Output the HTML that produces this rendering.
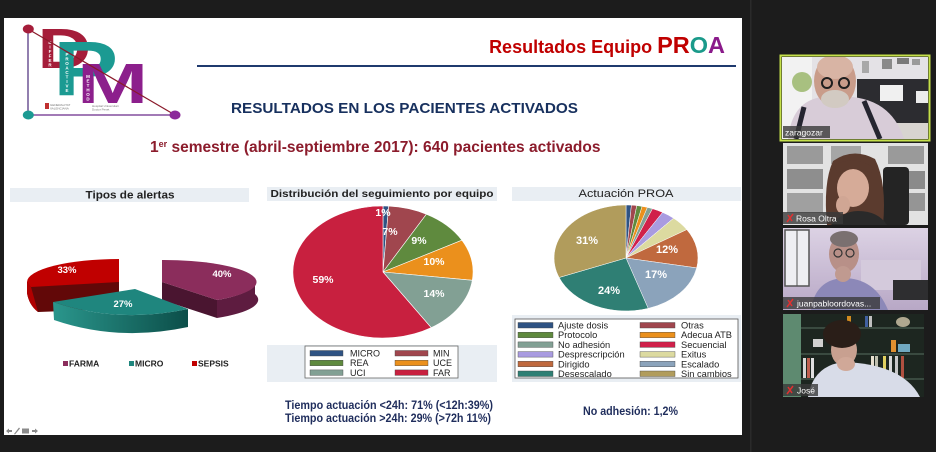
<!DOCTYPE html>
<html><head><meta charset="utf-8"><style>
html,body{margin:0;padding:0;background:#1c1c1c;}
svg{display:block;}
text{font-family:"Liberation Sans",Arial,sans-serif;}
</style></head><body>
<svg width="936" height="452" viewBox="0 0 936 452" xmlns="http://www.w3.org/2000/svg">
<defs>
<linearGradient id="tealside" x1="0" x2="1" y1="0" y2="0"><stop offset="0" stop-color="#2a968c"/><stop offset="1" stop-color="#0c4e49"/></linearGradient>
<linearGradient id="lav" x1="0" x2="0" y1="0" y2="1"><stop offset="0" stop-color="#dcd2e4"/><stop offset="1" stop-color="#b8a8c6"/></linearGradient>
</defs>
<rect width="936" height="452" fill="#1c1c1c"/>
<rect x="750" y="0" width="1.5" height="452" fill="#2a2a2a"/>
<!-- slide -->
<rect x="4" y="18" width="738" height="417" fill="#ffffff"/>

<!-- logo -->
<text transform="translate(37.6,68) scale(1.3,1)" x="0" y="0" font-size="57" font-weight="bold" fill="#a51d3a">D</text>
<text transform="translate(53,95) scale(1.27,1)" x="0" y="0" font-size="77" font-weight="bold" fill="#1b9a92">P</text>
<text transform="translate(77,103) scale(1.5,1)" x="0" y="0" font-size="57" font-weight="bold" fill="#8c1f8c">M</text>
<text font-size="4.5" font-weight="bold" fill="#ffffff" text-anchor="middle"><tspan x="50" y="44">D</tspan><tspan x="50" dy="4.5">I</tspan><tspan x="50" dy="4.5">F</tspan><tspan x="50" dy="4.5">F</tspan><tspan x="50" dy="4.5">E</tspan><tspan x="50" dy="4.5">R</tspan><tspan x="50" dy="4.5">E</tspan><tspan x="50" dy="4.5">N</tspan><tspan x="50" dy="4.5">T</tspan></text>
<text font-size="4.5" font-weight="bold" fill="#ffffff" text-anchor="middle"><tspan x="67" y="56">P</tspan><tspan x="67" dy="4.5">R</tspan><tspan x="67" dy="4.5">O</tspan><tspan x="67" dy="4.5">A</tspan><tspan x="67" dy="4.5">C</tspan><tspan x="67" dy="4.5">T</tspan><tspan x="67" dy="4.5">I</tspan><tspan x="67" dy="4.5">V</tspan><tspan x="67" dy="4.5">E</tspan></text>
<text font-size="4.5" font-weight="bold" fill="#ffffff" text-anchor="middle"><tspan x="88" y="78">M</tspan><tspan x="88" dy="4.5">E</tspan><tspan x="88" dy="4.5">T</tspan><tspan x="88" dy="4.5">H</tspan><tspan x="88" dy="4.5">O</tspan><tspan x="88" dy="4.5">D</tspan></text>
<line x1="28" y1="29" x2="28" y2="115" stroke="#4a2a7a" stroke-width="1.2"/>
<line x1="28" y1="115" x2="175" y2="115" stroke="#6a2a8a" stroke-width="1.2"/>
<line x1="28" y1="29" x2="175" y2="115" stroke="#8a1a2a" stroke-width="1.2"/>
<ellipse cx="28.3" cy="29" rx="5.5" ry="4.5" fill="#a51d3a"/>
<ellipse cx="28.3" cy="115" rx="5.5" ry="4.5" fill="#1b9a92"/>
<ellipse cx="175" cy="115" rx="5.5" ry="4.5" fill="#8c2a9a"/>
<rect x="45" y="103" width="4" height="6" fill="#c03030"/>
<text x="50" y="106" font-size="3" fill="#777">GENERALITAT</text>
<text x="50" y="109.5" font-size="3" fill="#777">VALENCIANA</text>
<text x="92" y="107" font-size="3" fill="#777">Hospital Universitari</text>
<text x="92" y="110.5" font-size="3" fill="#777">Doctor Peset</text>

<!-- header -->
<text x="725" y="53" text-anchor="end" font-weight="bold" fill="#c00000" font-size="18">Resultados Equipo <tspan font-size="23.5">PR</tspan><tspan font-size="23.5" fill="#1a9a8a">O</tspan><tspan font-size="23.5" fill="#8a1a8a">A</tspan></text>
<line x1="197" y1="66" x2="736" y2="66" stroke="#1f3a6e" stroke-width="2"/>
<text x="231" y="113" font-size="15" font-weight="bold" fill="#17305e" textLength="347" lengthAdjust="spacingAndGlyphs">RESULTADOS EN LOS PACIENTES ACTIVADOS</text>
<text x="150" y="152" font-size="15.5" font-weight="bold" fill="#8c1c2c">1<tspan font-size="9" dy="-5">er</tspan><tspan dy="5"> semestre (abril-septiembre 2017):  640 pacientes activados</tspan></text>

<!-- chart 1 -->
<rect x="10" y="188" width="239" height="14" fill="#e9eef3"/>
<text x="130" y="198.5" text-anchor="middle" font-size="11" font-weight="bold" fill="#222" textLength="89" lengthAdjust="spacingAndGlyphs">Tipos de alertas</text>
<!-- red -->
<path d="M27,282 L119,282 L119,309 L38,312 Q29,305 27,293 Z" fill="#620808"/>
<path d="M27,282 L31,287 L38,312 Q29,305 27,293 Z" fill="#b00000"/>
<path d="M119,282 L119,259 A92,23 0 0 0 27,282 L31,287 Z" fill="#c00000"/>
<!-- purple -->
<path d="M162,282 L217,300 L217,318 L162,300 Z" fill="#4a1530"/>
<path d="M217,300 A93,22 0 0 0 255,282 L255,294 A93,22 0 0 1 217,318 Z" fill="#5e1c40"/>
<path d="M162,282 L162,260 A93,22 0 0 1 217,300 Z" fill="#8b2d5c"/>
<!-- teal -->
<path d="M53,302 Q118,324 188,309 L188,327 Q118,342 54,320 Z" fill="url(#tealside)"/>
<path d="M135,289 L53,302 Q118,324 188,309 Z" fill="#1f867e"/>
<text x="67" y="273" text-anchor="middle" font-size="9.5" font-weight="bold" fill="#fff">33%</text>
<text x="222" y="277" text-anchor="middle" font-size="9.5" font-weight="bold" fill="#fff">40%</text>
<text x="123" y="307" text-anchor="middle" font-size="9.5" font-weight="bold" fill="#fff">27%</text>
<rect x="63" y="361" width="5" height="5" fill="#8b2d5c"/>
<text x="69" y="366.5" font-size="8.5" font-weight="bold" fill="#222">FARMA</text>
<rect x="129" y="361" width="5" height="5" fill="#1f867e"/>
<text x="135" y="366.5" font-size="8.5" font-weight="bold" fill="#222">MICRO</text>
<rect x="192" y="361" width="5" height="5" fill="#c00000"/>
<text x="198" y="366.5" font-size="8.5" font-weight="bold" fill="#222">SEPSIS</text>

<!-- chart 2 -->
<rect x="267" y="187" width="230" height="14" fill="#e9eef3"/>
<text x="382" y="197" text-anchor="middle" font-size="10.5" font-weight="bold" fill="#222" textLength="223" lengthAdjust="spacingAndGlyphs">Distribución del seguimiento por equipo</text>
<g stroke="#ffffff" stroke-width="0.6">
<path d="M383,272 L383,206 A90,66 0 0 1 388.7,206.1 Z" fill="#2f5383"/>
<path d="M383,272 L388.7,206.1 A90,66 0 0 1 426.4,214.2 Z" fill="#a0464e"/>
<path d="M383,272 L426.4,214.2 A90,66 0 0 1 461.9,240.2 Z" fill="#5f8a3e"/>
<path d="M383,272 L461.9,240.2 A90,66 0 0 1 472.3,280.3 Z" fill="#eb901c"/>
<path d="M383,272 L472.3,280.3 A90,66 0 0 1 431.2,327.7 Z" fill="#82a094"/>
<path d="M383,272 L431.2,327.7 A90,66 0 1 1 383,206 Z" fill="#c8203f"/>
</g>
<g font-size="10.5" font-weight="bold" fill="#fff" text-anchor="middle">
<text x="383" y="216">1%</text>
<text x="390" y="235">7%</text>
<text x="419" y="244">9%</text>
<text x="434" y="265">10%</text>
<text x="434" y="297">14%</text>
<text x="323" y="283">59%</text>
</g>
<rect x="267" y="345" width="230" height="37" fill="#e9eef3"/>
<rect x="305" y="346" width="153" height="32" fill="#fff" stroke="#666" stroke-width="0.8"/>
<g stroke="#444" stroke-width="0.4">
<rect x="310" y="350.5" width="33" height="5.5" fill="#2f5383"/>
<rect x="395" y="350.5" width="33" height="5.5" fill="#a0464e"/>
<rect x="310" y="360.2" width="33" height="5.5" fill="#5f8a3e"/>
<rect x="395" y="360.2" width="33" height="5.5" fill="#eb901c"/>
<rect x="310" y="369.9" width="33" height="5.5" fill="#82a094"/>
<rect x="395" y="369.9" width="33" height="5.5" fill="#c8203f"/>
</g>
<g font-size="9" fill="#222">
<text x="350" y="356.5">MICRO</text>
<text x="433" y="356.5">MIN</text>
<text x="350" y="366.2">REA</text>
<text x="433" y="366.2">UCE</text>
<text x="350" y="375.9">UCI</text>
<text x="433" y="375.9">FAR</text>
</g>
<text x="285" y="409" font-size="11.5" font-weight="bold" fill="#1f2d5c" textLength="208" lengthAdjust="spacingAndGlyphs">Tiempo actuación &lt;24h: 71% (&lt;12h:39%)</text>
<text x="285" y="422" font-size="11.5" font-weight="bold" fill="#1f2d5c" textLength="206" lengthAdjust="spacingAndGlyphs">Tiempo actuación &gt;24h: 29% (&gt;72h 11%)</text>

<!-- chart 3 -->
<rect x="512" y="187" width="229" height="14" fill="#e9eef3"/>
<text x="626" y="197" text-anchor="middle" font-size="11" fill="#222" textLength="95" lengthAdjust="spacingAndGlyphs">Actuación PROA</text>
<g stroke="#ffffff" stroke-width="0.5">
<path d="M626,258 L626,205 A72,53 0 0 1 631.4,205.1 Z" fill="#2f5383"/>
<path d="M626,258 L631.4,205.1 A72,53 0 0 1 636.8,205.6 Z" fill="#a0464e"/>
<path d="M626,258 L636.8,205.6 A72,53 0 0 1 642.1,206.4 Z" fill="#5f8a3e"/>
<path d="M626,258 L642.1,206.4 A72,53 0 0 1 647.4,207.4 Z" fill="#eb901c"/>
<path d="M626,258 L647.4,207.4 A72,53 0 0 1 652.5,208.7 Z" fill="#82a094"/>
<path d="M626,258 L652.5,208.7 A72,53 0 0 1 662.6,212.4 Z" fill="#d0204a"/>
<path d="M626,258 L662.6,212.4 A72,53 0 0 1 673.6,218.2 Z" fill="#a99be0"/>
<path d="M626,258 L673.6,218.2 A72,53 0 0 1 686.8,229.6 Z" fill="#dcdaa0"/>
<path d="M626,258 L686.8,229.6 A72,53 0 0 1 696.7,267.9 Z" fill="#c0693e"/>
<path d="M626,258 L696.7,267.9 A72,53 0 0 1 648.2,308.4 Z" fill="#8ba3bb"/>
<path d="M626,258 L648.2,308.4 A72,53 0 0 1 559.1,277.5 Z" fill="#2f7f74"/>
<path d="M626,258 L559.1,277.5 A72,53 0 0 1 626,205 Z" fill="#b19c5c"/>
</g>
<g font-size="11" font-weight="bold" fill="#fff" text-anchor="middle">
<text x="587" y="244">31%</text>
<text x="667" y="253">12%</text>
<text x="656" y="278">17%</text>
<text x="609" y="294">24%</text>
</g>
<rect x="512" y="315" width="229" height="67" fill="#e9eef3"/>
<rect x="515" y="319" width="223" height="59" fill="#fff" stroke="#555" stroke-width="0.8"/>
<g stroke="#444" stroke-width="0.4">
<rect x="518" y="322.5" width="35" height="5.5" fill="#2f5383"/>
<rect x="640" y="322.5" width="35" height="5.5" fill="#a0464e"/>
<rect x="518" y="332.2" width="35" height="5.5" fill="#5f8a3e"/>
<rect x="640" y="332.2" width="35" height="5.5" fill="#eb901c"/>
<rect x="518" y="341.9" width="35" height="5.5" fill="#82a094"/>
<rect x="640" y="341.9" width="35" height="5.5" fill="#d0204a"/>
<rect x="518" y="351.6" width="35" height="5.5" fill="#a99be0"/>
<rect x="640" y="351.6" width="35" height="5.5" fill="#dcdaa0"/>
<rect x="518" y="361.3" width="35" height="5.5" fill="#c0693e"/>
<rect x="640" y="361.3" width="35" height="5.5" fill="#8ba3bb"/>
<rect x="518" y="371" width="35" height="5.5" fill="#2f7f74"/>
<rect x="640" y="371" width="35" height="5.5" fill="#b19c5c"/>
</g>
<g font-size="9.3" fill="#222">
<text x="558" y="328.5">Ajuste dosis</text>
<text x="681" y="328.5">Otras</text>
<text x="558" y="338.2">Protocolo</text>
<text x="681" y="338.2">Adecua ATB</text>
<text x="558" y="347.9">No adhesión</text>
<text x="681" y="347.9">Secuencial</text>
<text x="558" y="357.6">Desprescripción</text>
<text x="681" y="357.6">Exitus</text>
<text x="558" y="367.3">Dirigido</text>
<text x="681" y="367.3">Escalado</text>
<text x="558" y="377">Desescalado</text>
<text x="681" y="377">Sin cambios</text>
</g>
<text x="583" y="415" font-size="11.5" font-weight="bold" fill="#1f2d5c" textLength="95" lengthAdjust="spacingAndGlyphs">No adhesión: 1,2%</text>

<!-- toolbar icons -->
<g fill="#8a8a8a">
<path d="M6,431 L9,428.5 L9,430 L12,430 L12,432 L9,432 L9,433.5 Z"/>
<path d="M14,434 L19,427.5 L20,428.5 L15,434.5 Z"/>
<rect x="22" y="428.5" width="7" height="5"/>
<path d="M38,431 L35,428.5 L35,430 L32,430 L32,432 L35,432 L35,433.5 Z"/>
</g>

<!-- video tile 1 -->
<rect x="780.5" y="55.5" width="149" height="85" fill="none" stroke="#c5e04a" stroke-width="2"/>
<svg x="782" y="57" width="146" height="82" viewBox="0 0 146 82">
<rect width="146" height="82" fill="#e4e2e6"/>
<rect x="0" y="0" width="30" height="82" fill="#f2f2f2"/>
<rect x="100" y="2" width="10" height="10" fill="#8a8a8a"/>
<rect x="115" y="1" width="12" height="6" fill="#7a7a7a"/>
<rect x="130" y="2" width="8" height="6" fill="#9a9a9a"/>
<rect x="80" y="4" width="7" height="12" fill="#a8a8a8"/>
<rect x="75" y="22" width="71" height="46" fill="#2c2c30"/>
<rect x="98" y="28" width="23" height="16" fill="#f0f0f0"/>
<rect x="134" y="34" width="12" height="12" fill="#ececec"/>
<rect x="110" y="66" width="36" height="16" fill="#d8d4d0"/>
<ellipse cx="20" cy="25" rx="10" ry="10" fill="#a8c080"/>
<path d="M6,82 Q10,44 40,40 L70,40 Q110,44 122,82 Z" fill="#d8ccd8"/>
<path d="M22,50 L14,82" stroke="#252530" stroke-width="5"/>
<path d="M82,44 L98,82" stroke="#252530" stroke-width="5"/>
<ellipse cx="53" cy="24" rx="21" ry="26" fill="#c99c8a"/>
<ellipse cx="53" cy="10" rx="18" ry="12" fill="#d8b4a4"/>
<ellipse cx="53" cy="42" rx="14" ry="9" fill="#d2cac2"/>
<circle cx="45" cy="26" r="5" fill="none" stroke="#1e1e1e" stroke-width="2"/>
<circle cx="62" cy="26" r="5" fill="none" stroke="#1e1e1e" stroke-width="2"/>
<rect x="1" y="69" width="47" height="12" fill="#3a3a3a" fill-opacity="0.8"/>
<text x="3" y="78.5" font-size="8.5" fill="#ffffff">zaragozar</text>
</svg>

<!-- video tile 2 -->
<svg x="783" y="143" width="145" height="82" viewBox="0 0 145 82">
<rect width="145" height="82" fill="#e2e2e2"/>
<rect x="4" y="3" width="36" height="18" fill="#9a9a9a"/>
<rect x="4" y="26" width="36" height="20" fill="#8e8e8e"/>
<rect x="4" y="50" width="36" height="20" fill="#a0a0a0"/>
<rect x="48" y="3" width="30" height="18" fill="#a6a6a6"/>
<rect x="105" y="3" width="36" height="18" fill="#9a9a9a"/>
<rect x="110" y="28" width="32" height="18" fill="#8a8a8a"/>
<rect x="110" y="50" width="32" height="18" fill="#959595"/>
<rect x="100" y="24" width="26" height="58" rx="4" fill="#242424"/>
<path d="M44,82 Q40,40 50,18 Q70,4 92,16 Q104,40 100,82 Z" fill="#5b3b2e"/>
<ellipse cx="70" cy="45" rx="16" ry="19" fill="#d6ab98"/>
<path d="M52,22 Q70,12 90,24 L88,30 Q70,22 54,30 Z" fill="#5b3b2e"/>
<ellipse cx="60" cy="62" rx="7" ry="9" fill="#d0a694"/>
<path d="M48,82 Q60,68 75,68 Q95,68 104,82 Z" fill="#2a2a2a"/>
<rect x="0" y="69" width="60" height="12" fill="#3a3a3a" fill-opacity="0.8"/>
<path d="M4,79 L10,71 M5,72 L9,78" stroke="#e03030" stroke-width="1.5"/>
<text x="13" y="78.5" font-size="8.5" fill="#ffffff">Rosa Oltra</text>
</svg>

<!-- video tile 3 -->
<svg x="783" y="228" width="145" height="82" viewBox="0 0 145 82">
<rect width="145" height="82" fill="url(#lav)"/>
<rect x="2" y="2" width="24" height="56" fill="#eeeef2"/>
<rect x="2" y="2" width="24" height="56" fill="none" stroke="#555" stroke-width="1.5"/>
<line x1="14" y1="2" x2="14" y2="58" stroke="#555" stroke-width="1"/>
<rect x="78" y="32" width="60" height="30" fill="#d4cadc"/>
<rect x="110" y="52" width="35" height="20" fill="#2e2e30"/>
<path d="M28,82 Q32,52 60,50 Q92,50 105,82 Z" fill="#8c88b8"/>
<ellipse cx="61" cy="26" rx="15" ry="19" fill="#b89088"/>
<ellipse cx="61" cy="11" rx="14" ry="8" fill="#7a7070"/>
<circle cx="55" cy="25" r="4" fill="none" stroke="#333" stroke-width="1.2"/>
<circle cx="67" cy="25" r="4" fill="none" stroke="#333" stroke-width="1.2"/>
<ellipse cx="60" cy="46" rx="8" ry="8" fill="#c09a90"/>
<rect x="0" y="69" width="97" height="12" fill="#3a3a3a" fill-opacity="0.8"/>
<path d="M4,79 L10,71 M5,72 L9,78" stroke="#e03030" stroke-width="1.5"/>
<text x="14" y="78.5" font-size="8.5" fill="#ffffff">juanpabloordovas...</text>
</svg>

<!-- video tile 4 -->
<svg x="783" y="314" width="141" height="83" viewBox="0 0 141 83">
<rect width="141" height="83" fill="#1d2620"/>
<rect x="0" y="0" width="18" height="83" fill="#5e8a70"/>
<rect x="18" y="13" width="123" height="2" fill="#3a4a40"/>
<rect x="18" y="39" width="123" height="2" fill="#3a4a40"/>
<rect x="18" y="64" width="123" height="2" fill="#3a4a40"/>
<rect x="64" y="2" width="4" height="11" fill="#d08a20"/>
<rect x="82" y="2" width="3" height="11" fill="#4060a0"/>
<rect x="86" y="2" width="3" height="11" fill="#c0c0c0"/>
<ellipse cx="120" cy="8" rx="7" ry="5" fill="#b0a890"/>
<rect x="30" y="25" width="10" height="8" fill="#d0d0d0"/>
<rect x="108" y="26" width="5" height="12" fill="#e09030"/>
<rect x="115" y="30" width="12" height="8" fill="#70a8c0"/>
<rect x="20" y="44" width="3" height="20" fill="#d8d8d8"/>
<rect x="24" y="44" width="3" height="20" fill="#c06050"/>
<rect x="28" y="44" width="3" height="20" fill="#e0e0e0"/>
<rect x="88" y="42" width="3" height="22" fill="#e8e0d0"/>
<rect x="92" y="42" width="3" height="22" fill="#c0c0b0"/>
<rect x="100" y="42" width="3" height="22" fill="#e0d060"/>
<rect x="106" y="42" width="3" height="22" fill="#d8d8d8"/>
<rect x="112" y="42" width="3" height="22" fill="#c8c8c8"/>
<rect x="118" y="42" width="3" height="22" fill="#b05040"/>
<path d="M25,83 Q30,52 60,48 Q120,50 137,83 Z" fill="#d8dce8"/>
<ellipse cx="61" cy="36" rx="13" ry="16" fill="#c8a090"/>
<ellipse cx="59" cy="20" rx="19" ry="14" fill="#2a1e18"/>
<ellipse cx="63" cy="50" rx="9" ry="7" fill="#d0a898"/>
<rect x="0" y="70" width="35" height="12" fill="#3a3a3a" fill-opacity="0.8"/>
<path d="M4,80 L10,72 M5,73 L9,79" stroke="#e03030" stroke-width="1.5"/>
<text x="14" y="79.5" font-size="8.5" fill="#ffffff">José</text>
</svg>
</svg>
</body></html>
